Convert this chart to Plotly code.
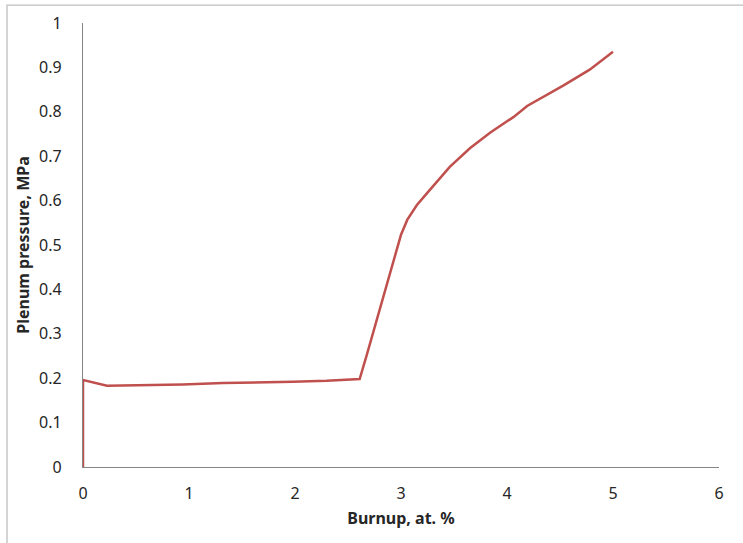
import plotly.graph_objects as go

burnup = [0.0, 0.0, 0.226, 0.54, 0.94, 1.32, 1.67, 1.98, 2.30, 2.58, 2.61,
          2.68, 2.75, 2.85, 2.94, 3.00, 3.06, 3.15, 3.25, 3.34, 3.46, 3.65, 3.84,
          4.06, 4.19, 4.53, 4.78, 5.0]
pressure = [0.0, 0.196, 0.183, 0.184, 0.186, 0.189, 0.190, 0.192, 0.194, 0.197, 0.198,
            0.255, 0.314, 0.398, 0.474, 0.523, 0.557, 0.590, 0.618, 0.643, 0.676, 0.718, 0.753,
            0.788, 0.813, 0.859, 0.895, 0.935]

x_ticks = [0, 1, 2, 3, 4, 5, 6]
y_ticks = [0, 0.1, 0.2, 0.3, 0.4, 0.5, 0.6, 0.7, 0.8, 0.9, 1]
y_labels = ["0", "0.1", "0.2", "0.3", "0.4", "0.5", "0.6", "0.7", "0.8", "0.9", "1"]

fig = go.Figure()
fig.add_trace(go.Scatter(x=burnup, y=pressure, mode="lines",
                         line=dict(color="#C0504D", width=2.5), showlegend=False))

font = "Noto Sans, Open Sans, sans-serif"
fig.update_layout(
    width=743, height=543,
    margin=dict(l=83, r=24, t=20, b=76),
    paper_bgcolor="white", plot_bgcolor="white",
    font=dict(family=font, size=16, color="#262626"),
    xaxis=dict(range=[0, 6], tickvals=x_ticks, showgrid=False, zeroline=False,
               showline=True, linecolor="#868686", linewidth=1.3,
               ticks="", ticklabelstandoff=12,
               title=dict(text="<b>Burnup, at. %</b>", font=dict(size=16), standoff=9)),
    yaxis=dict(range=[0, 1], tickvals=y_ticks, ticktext=y_labels, showgrid=False,
               zeroline=False, showline=True, linecolor="#868686", linewidth=1.3,
               ticks="", ticklabelstandoff=17,
               title=dict(text="<b>Plenum pressure, MPa</b>", font=dict(size=16), standoff=5)),
    shapes=[dict(type="rect", xref="paper", yref="paper",
                 x0=(7 - 83) / 636, x1=1.2, y0=-0.3, y1=(467 - 2) / 447,
                 line=dict(color="#BFBFBF", width=1.3), layer="below")],
)

fig.write_html("out.html")
